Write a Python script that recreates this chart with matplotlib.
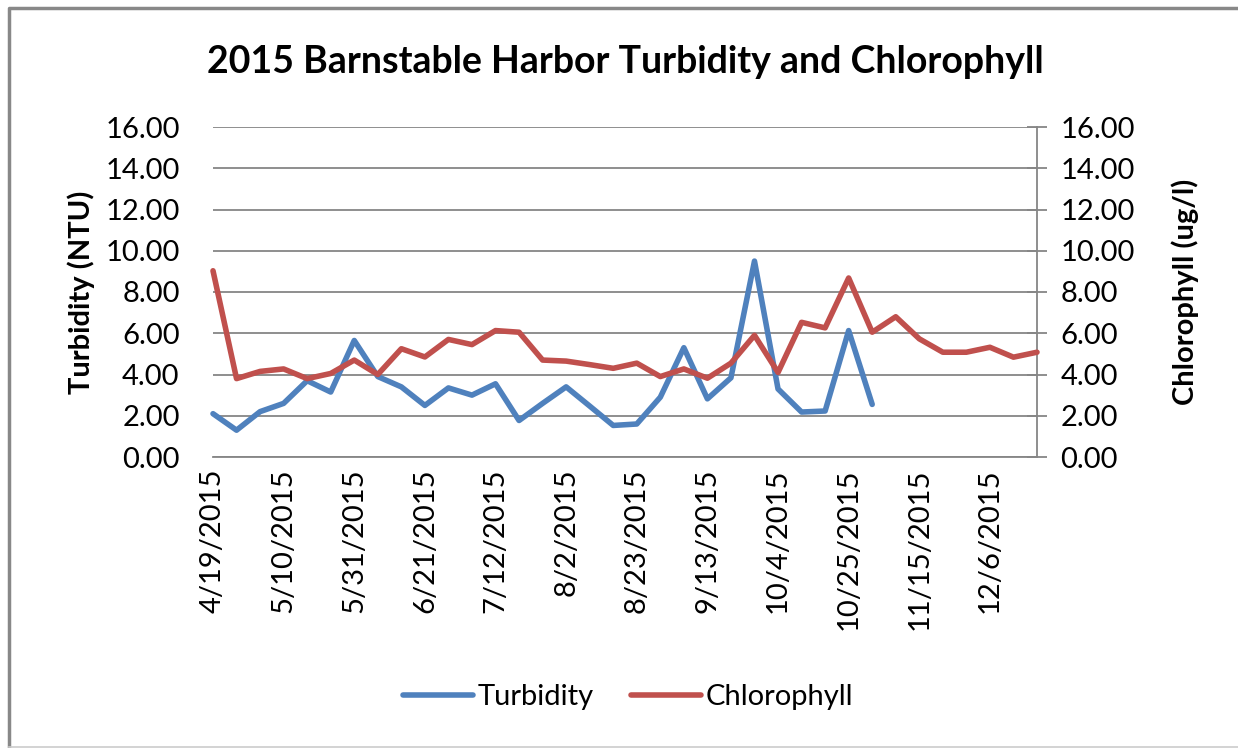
import numpy as np
import matplotlib
matplotlib.use("Agg")
import matplotlib.pyplot as plt
from matplotlib.lines import Line2D
from matplotlib.ticker import FixedLocator, FixedFormatter, MultipleLocator, FormatStrFormatter

plt.rcParams['font.family'] = ['Lato', 'DejaVu Sans']

# ---- data ----
start_date = np.datetime64('2015-04-19')
n_weeks = 36
dates = start_date + np.arange(n_weeks) * np.timedelta64(7, 'D')

turbidity = [2.10, 1.30, 2.20, 2.60, 3.70, 3.15, 5.65, 3.90, 3.40, 2.50,
             3.35, 3.00, 3.55, 1.77, 2.60, 3.40, 2.47, 1.53, 1.60, 2.90,
             5.30, 2.82, 3.84, 9.50, 3.30, 2.18, 2.23, 6.13, 2.55]
chlorophyll = [9.03, 3.80, 4.15, 4.27, 3.80, 4.05, 4.70, 4.00, 5.25, 4.85,
               5.70, 5.45, 6.13, 6.05, 4.70, 4.65, 4.48, 4.30, 4.55, 3.90,
               4.27, 3.82, 4.55, 5.90, 4.10, 6.53, 6.26, 8.68, 6.05, 6.80,
               5.73, 5.08, 5.08, 5.32, 4.84, 5.08]
tick_labels = ['4/19/2015', '5/10/2015', '5/31/2015', '6/21/2015', '7/12/2015',
               '8/2/2015', '8/23/2015', '9/13/2015', '10/4/2015', '10/25/2015',
               '11/15/2015', '12/6/2015']

title = '2015 Barnstable Harbor Turbidity and Chlorophyll'
left_label = 'Turbidity (NTU)'
right_label = 'Chlorophyll (ug/l)'

blue = '#4F81BD'
red = '#C0504D'
grid_c = '#868686'

W, H = 1238, 748
fig = plt.figure(figsize=(W / 100, H / 100), dpi=100)
L, R, T, B = 213, 1037, 127, 457
ax = fig.add_axes([L / W, 1 - B / H, (R - L) / W, (B - T) / H])
ax2 = ax.twinx()

x = np.arange(n_weeks)
ax.plot(x[:len(turbidity)], turbidity, color=blue, lw=4, solid_capstyle='round',
        solid_joinstyle='round', label='Turbidity', zorder=3, clip_on=False)
ax2.plot(x[:len(chlorophyll)], chlorophyll, color=red, lw=4, solid_capstyle='round',
         solid_joinstyle='round', label='Chlorophyll', zorder=3, clip_on=False)

for a in (ax, ax2):
    a.set_ylim(0, 16)
    a.yaxis.set_major_locator(MultipleLocator(2))
    a.yaxis.set_major_formatter(FormatStrFormatter('%.2f'))
    a.set_xlim(0, n_weeks - 1)
    for s in a.spines.values():
        s.set_visible(False)

ax.set_axisbelow(True)
ax.grid(axis='y', color=grid_c, lw=1.3)
ax.spines['bottom'].set_visible(True)
ax.spines['bottom'].set_color(grid_c)
ax.spines['bottom'].set_linewidth(1.3)
ax2.spines['right'].set_visible(True)
ax2.spines['right'].set_color(grid_c)
ax2.spines['right'].set_linewidth(1.3)

tick_pos = x[::3][:len(tick_labels)]
ax.xaxis.set_major_locator(FixedLocator(tick_pos))
ax.xaxis.set_major_formatter(FixedFormatter(tick_labels))
ax.tick_params(axis='x', length=0, pad=8, labelsize=21, labelrotation=90, colors='black')
for lab in ax.get_xticklabels():
    lab.set_verticalalignment('top')
    lab.set_horizontalalignment('center')
ax.tick_params(axis='y', length=0, pad=24, labelsize=21, colors='black')
ax2.tick_params(axis='y', direction='inout', length=14, width=1.3, color=grid_c,
                pad=10, labelsize=21, labelcolor='black')

ax.set_ylabel(left_label, fontsize=21, fontweight='bold')
ax.yaxis.set_label_coords((95 - L) / (R - L), 0.5)
ax2.set_ylabel(right_label, fontsize=21, fontweight='bold', rotation=90)
ax2.yaxis.set_label_coords((1171 - L) / (R - L), 0.5)

fig.text(625 / W, 1 - 62 / H, title, ha='center', va='center', fontsize=27, fontweight='bold')

handles = [Line2D([], [], color=blue, lw=4, solid_capstyle='round'),
           Line2D([], [], color=red, lw=4, solid_capstyle='round')]
fig.legend(handles, ['Turbidity', 'Chlorophyll'], loc='center', ncol=2,
           bbox_to_anchor=(628 / W, 1 - 697 / H), frameon=False, fontsize=21,
           handlelength=2.4, handletextpad=0.15, columnspacing=1.3)

# chart border
fig.add_artist(Line2D([9 / W, 9 / W, 1], [1 - 747 / H, 1 - 8 / H, 1 - 8 / H],
                      transform=fig.transFigure, color='#888888', lw=2.5))
fig.add_artist(Line2D([9 / W, 1], [1 - 746.5 / H, 1 - 746.5 / H],
                      transform=fig.transFigure, color='#cccccc', lw=1.2))

fig.savefig('out.png', dpi=100)
